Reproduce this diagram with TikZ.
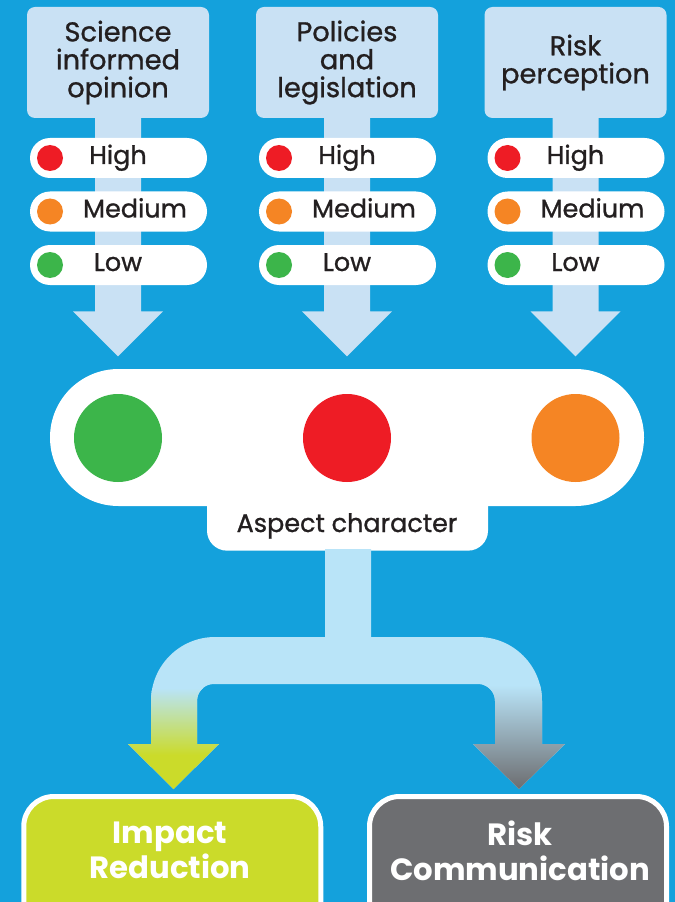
\documentclass[tikz,border=0pt]{standalone}
\usepackage{fontspec}
\setmainfont{Poppins}
\newfontfamily\medfont[FakeBold=1]{Poppins}
\usepackage{xcolor}
\usepackage{tikz}
\usetikzlibrary{calc, positioning}

\definecolor{bgblue}{HTML}{14A1DC}
\definecolor{headblue}{HTML}{C9E1F4}
\definecolor{paleblue}{HTML}{B9E4F8}
\definecolor{darktext}{HTML}{231F20}
\definecolor{hired}{HTML}{EE1C25}
\definecolor{horange}{HTML}{F58524}
\definecolor{hgreen}{HTML}{3CB54A}
\definecolor{impactlime}{HTML}{CBDB2A}
\definecolor{commgrey}{HTML}{6D6E71}

% one pixel of the drawing
\def\pxu{0.02cm}

\tikzset{
  headbox/.style={fill=headblue, rounded corners=8*\pxu, minimum width=182*\pxu,
    minimum height=111*\pxu, inner sep=0pt, align=center, text=darktext,
    font=\medfont\fontsize{15.5}{15.9}\selectfont},
  pill/.style={fill=white, rounded corners=20*\pxu, minimum width=177*\pxu,
    minimum height=40*\pxu, inner sep=0pt},
  dot/.style={circle, minimum size=26*\pxu, inner sep=0pt},
  bigdot/.style={circle, minimum size=88*\pxu, inner sep=0pt},
  lvltext/.style={inner sep=0pt, text=darktext, font=\medfont\fontsize{14.5}{16}\selectfont},
  outbox/.style={draw=white, line width=5*\pxu, rounded corners=30*\pxu,
    minimum width=297*\pxu, minimum height=160*\pxu, outer sep=0pt, inner sep=0pt},
  outtext/.style={inner sep=0pt, text=white, align=center,
    font=\fontsize{17.5}{19.8}\selectfont\bfseries}
}

\begin{document}
\begin{tikzpicture}[x=0.02cm, y=-0.02cm]
    % fond bleu et cadre
    \clip (0,0) rectangle (675,902);
    \fill[bgblue] (0,0) rectangle (675,902);

    % --- les trois colonnes ---
    \foreach \name/\cx/\txt in {sci/118/{Science\\informed\\opinion},
                                pol/347/{Policies\\and\\legislation},
                                risk/575.5/{Risk\\perception}} {
        \node[headbox] (\name) at (\cx,62.5) {\txt};
        % fleche vers le bas
        \fill[headblue] ($(\name.south)+(-23,-1)$) -- ++(0,194) -- ++(-22,0)
            -- ++(45,45) -- ++(45,-45) -- ++(-22,0) -- ++(0,-194) -- cycle;
        % niveaux
        \foreach \lvl/\col/\dx [count=\i] in {High/hired/0, Medium/horange/17, Low/hgreen/0} {
            \pgfmathsetmacro{\py}{158+(\i-1)*53.5}
            \node[pill] (\name-\lvl) at (\cx+0.5,\py) {};
            \node[dot, fill=\col] (\name-\lvl-dot) at (\cx-68,\py) {};
            \node[lvltext, anchor=base] (\name-\lvl-txt) at (\cx+\dx,\py+6) {\lvl};
        }
    }

    % --- bloc central ---
    \node[fill=white, rounded corners=20*\pxu, minimum width=281*\pxu,
          minimum height=70*\pxu, inner sep=0pt, anchor=south] (tab) at (347.5,551) {};
    \node[fill=white, rounded corners=68.5*\pxu, minimum width=594*\pxu,
          minimum height=137*\pxu, inner sep=0pt] (aspect) at (347,437.5) {};
    \foreach \cname/\cx/\col in {cgreen/118/hgreen, cred/347/hired, corange/575.5/horange}
        \node[bigdot, fill=\col] (\cname) at (\cx,438) {};
    \node[lvltext, anchor=base, font=\medfont\fontsize{14.5}{16}\selectfont] (aspectlbl)
        at (347,532) {Aspect character};

    % --- fleche double avec degrade ---
    \begin{scope}
        \clip ($(tab.south)+(-22.5,-2)$) -- (325,637) -- (215,637)
            .. controls (179.65,637) and (151,665.65) .. (151,701)
            -- (151,744) -- (128,744) -- (173.5,789) -- (219,744) -- (197,744)
            -- (197,701) .. controls (197,691.6) and (204.6,684) .. (214,684)
            -- (478,684) .. controls (487.4,684) and (495,691.6) .. (495,701)
            -- (495,744) -- (473,744) -- (519,789) -- (565,744) -- (542,744)
            -- (542,701) .. controls (542,665.65) and (513.35,637) .. (478,637)
            -- (371,637) -- ($(tab.south)+(23.5,-2)$) -- cycle;
        \fill[paleblue] (100,540) rectangle (600,800);
        \shade[top color=paleblue, bottom color=impactlime] (100,688) rectangle (347,755);
        \fill[impactlime] (100,755) rectangle (347,800);
        \shade[top color=paleblue, bottom color=commgrey] (347,685) rectangle (600,788);
    \end{scope}

    % --- les deux sorties ---
    \node[outbox, fill=impactlime, anchor=north] (impact) at (172.25,796.5) {};
    \node[outbox, fill=commgrey, anchor=north] (comm) at (518,796.5) {};
    \node[outtext] (impactlbl) at (170,850.5) {Impact\\Reduction};
    \node[outtext] (commlbl) at (520,850.5) {Risk\\Communication};
\end{tikzpicture}
\end{document}
